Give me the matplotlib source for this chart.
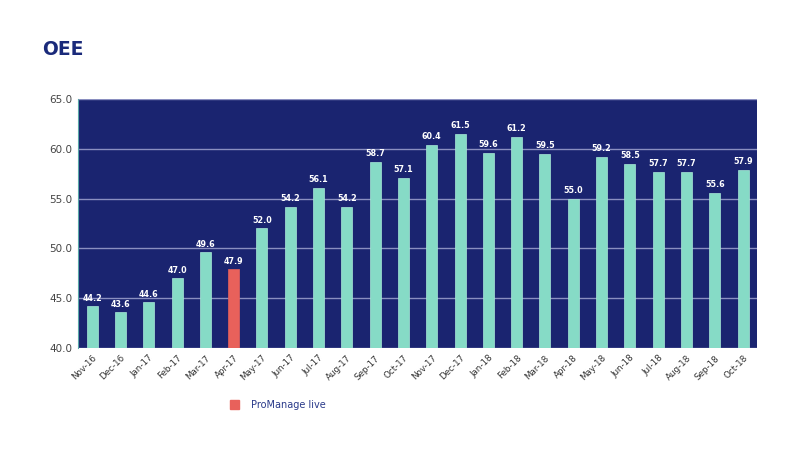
import numpy as np
import matplotlib.pyplot as plt
from matplotlib.patches import Patch

months = ["Nov-16", "Dec-16", "Jan-17", "Feb-17", "Mar-17", "Apr-17", "May-17", "Jun-17",
          "Jul-17", "Aug-17", "Sep-17", "Oct-17", "Nov-17", "Dec-17", "Jan-18", "Feb-18",
          "Mar-18", "Apr-18", "May-18", "Jun-18", "Jul-18", "Aug-18", "Sep-18", "Oct-18"]
oee = [44.2, 43.6, 44.6, 47.0, 49.6, 47.9, 52.0, 54.2, 56.1, 54.2, 58.7, 57.1,
       60.4, 61.5, 59.6, 61.2, 59.5, 55.0, 59.2, 58.5, 57.7, 57.7, 55.6, 57.9]
live_month = "Apr-17"

navy = "#1a2470"
teal = "#86dbc6"
red = "#e8615b"

fig = plt.figure(figsize=(8, 4.5), dpi=100)
ax = fig.add_axes([0.0975, 0.227, 0.849, 0.553])
ax.set_facecolor(navy)

x = np.arange(len(months))
colors = [red if m == live_month else teal for m in months]
edges = [red if m == live_month else "#a8e8d8" for m in months]
ax.bar(x, oee, width=0.39, color=colors, edgecolor=edges, linewidth=0.5, zorder=3)

for xi, v in zip(x, oee):
    ax.text(xi, v + 0.35, f"{v:.1f}", ha="center", va="bottom", color="white",
            fontsize=5.8, fontweight="bold", zorder=4)

ax.set_ylim(40, 65)
ax.set_xlim(-0.5, len(months) - 0.5)
ax.set_yticks([40, 45, 50, 55, 60, 65])
ax.set_yticklabels([f"{t:.1f}" for t in [40, 45, 50, 55, 60, 65]], fontsize=7.5, color="#444444")
ax.yaxis.grid(True, color="#8a8fc0", linewidth=1.0, zorder=1)
ax.set_axisbelow(True)
ax.set_xticks(x)
ax.set_xticklabels(months, rotation=45, ha="right", rotation_mode="anchor",
                   fontsize=6.3, color="#333333")
ax.tick_params(length=0, pad=4)
for s in ax.spines.values():
    s.set_visible(False)
ax.spines["left"].set_visible(True)
ax.spines["left"].set_color("#5aa8a8")

fig.text(0.053, 0.89, "OEE", fontsize=13.5, fontweight="bold", color="#1a2a7a", va="center")

leg = fig.legend(handles=[Patch(color=red, label="ProManage live")],
                 loc="center left", bbox_to_anchor=(0.276, 0.101), frameon=False,
                 fontsize=7, handlelength=1.0, handleheight=1.0, handletextpad=1.2)
for t in leg.get_texts():
    t.set_color("#2a3a8a")

fig.savefig("out.png", dpi=100)
